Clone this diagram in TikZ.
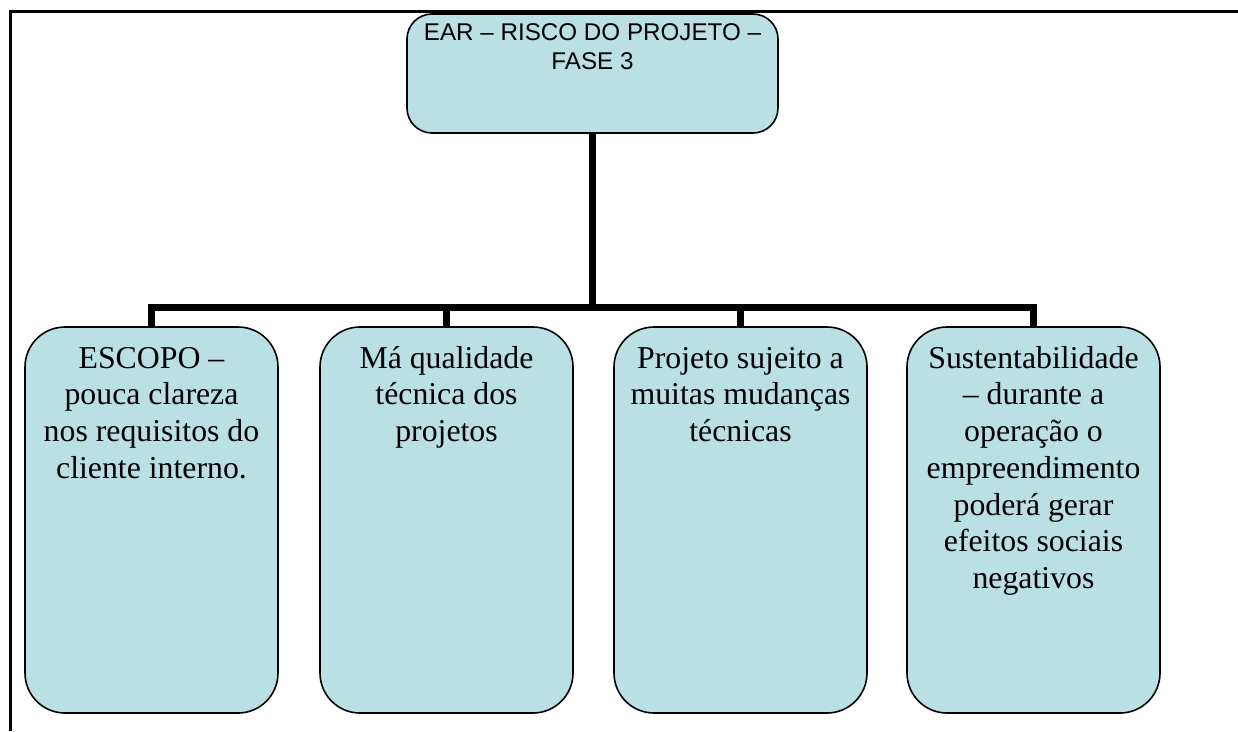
\documentclass[tikz,border=0pt]{standalone}
\usepackage{fontspec}
\newfontfamily\serifT{Liberation Serif}
\newfontfamily\sansA{Liberation Sans}
\definecolor{boxfill}{HTML}{BBE0E3}
\tikzset{
  rbox/.style={draw=black, line width=1.6pt, fill=boxfill, rounded corners=40pt, inner sep=0pt,
     minimum width=253pt, minimum height=386pt},
  topbox/.style={draw=black, line width=1.6pt, fill=boxfill, rounded corners=25pt, inner sep=0pt,
     minimum width=371pt, minimum height=119pt},
  lbl/.style={inner sep=0pt, anchor=base},
  conn/.style={draw=black, line width=7pt},
  frameline/.style={draw=black, line width=2.5pt}
}
\newcommand{\boxtext}[1]{\parbox[t]{252pt}{\centering\serifT\fontsize{31.8}{36.7}\selectfont #1}}
\begin{document}
\begin{tikzpicture}[x=1pt,y=-1pt]
\useasboundingbox (0,0) rectangle (1238,731);
% frame (table cell border)
\draw[frameline] (10.3,731) -- (10.3,11.3) -- (1238,11.3);
% boxes
\node[topbox] (top) at (592.5,73.5) {};
\node[rbox] (b1) at (151.5,520) {};
\node[rbox] (b2) at (446.5,520) {};
\node[rbox] (b3) at (740.5,520) {};
\node[rbox] (b4) at (1033.5,520) {};
\coordinate (hy) at (0,307);
% connectors
\draw[conn] (top.south) -- (top.south |- hy);
\draw[conn] (b1.north) -- (b1.north |- hy) -- (b4.north |- hy) -- (b4.north);
\draw[conn] (b2.north |- hy) -- (b2.north);
\draw[conn] (b3.north |- hy) -- (b3.north);
% texts
\node[lbl] (ttop) at ([yshift=-27.7pt]top.north) {\parbox[t]{368pt}{\centering\sansA\fontsize{24.2}{28.3}\selectfont EAR – RISCO DO PROJETO –\\FASE 3}};
\node[lbl] (t1) at ([yshift=-42pt]b1.north) {\boxtext{ESCOPO –\\pouca clareza\\nos requisitos do\\cliente interno.}};
\node[lbl] (t2) at ([yshift=-42pt]b2.north) {\boxtext{Má qualidade\\técnica dos\\projetos}};
\node[lbl] (t3) at ([yshift=-42pt]b3.north) {\boxtext{Projeto sujeito a\\muitas mudanças\\técnicas}};
\node[lbl] (t4) at ([yshift=-42pt]b4.north) {\boxtext{Sustentabilidade\\– durante a\\operação o\\empreendimento\\poderá gerar\\efeitos sociais\\negativos}};
\end{tikzpicture}
\end{document}
